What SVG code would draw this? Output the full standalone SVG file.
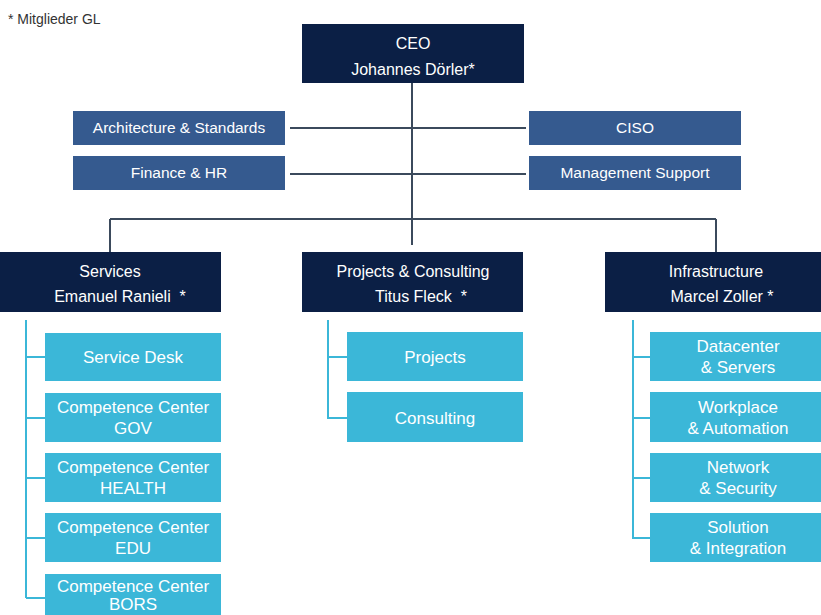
<svg xmlns="http://www.w3.org/2000/svg" width="821" height="615" viewBox="0 0 821 615">
<style>
.t{font-family:"Liberation Sans",Arial,sans-serif;fill:#fff;text-anchor:middle}
.top{fill:#0b1f45}
.staff{fill:#355a8f}
.sub{fill:#3bb7d8}
.c1{stroke:#3b4a5c;stroke-width:2;fill:none}
.c2{stroke:#3bb7d8;stroke-width:2;fill:none}
.f16{font-size:16px}
.f15{font-size:15.5px}
.f17{font-size:17px}
</style>
<rect width="821" height="615" fill="#fff"/>
<text x="8" y="24" font-family="Liberation Sans,Arial,sans-serif" font-size="14" fill="#333">* Mitglieder GL</text>
<g id="connectors">
<path class="c1" d="M412 83V245M290 128H526M290 174H526M110 219H716M110 219V252M716 219V252"/>
<path class="c2" d="M26 320V598M26 357H45M26 418H45M26 478H45M26 538H45M26 598H45"/>
<path class="c2" d="M328 320V418H347M328 357H347"/>
<path class="c2" d="M633 320V538H650M633 357H650M633 418H650M633 478H650"/>
</g>
<g id="ceo"><rect class="top" x="302" y="24" width="222" height="59"/><text class="t f16" x="413" y="49">CEO</text><text class="t f16" x="413" y="75">Johannes Dörler*</text></g>
<g id="arch"><rect class="staff" x="73" y="111" width="212" height="34"/><text class="t f15" x="179" y="133">Architecture &amp; Standards</text></g>
<g id="fin"><rect class="staff" x="73" y="156" width="212" height="34"/><text class="t f15" x="179" y="178">Finance &amp; HR</text></g>
<g id="ciso"><rect class="staff" x="529" y="111" width="212" height="34"/><text class="t f15" x="635" y="133">CISO</text></g>
<g id="mgmt"><rect class="staff" x="529" y="156" width="212" height="34"/><text class="t f15" x="635" y="178">Management Support</text></g>
<g id="services"><rect class="top" x="0" y="252" width="221" height="60"/><text class="t f16" x="110" y="277">Services</text><text class="t f16" x="120" y="302">Emanuel Ranieli&#160; *</text></g>
<g id="projcons"><rect class="top" x="302" y="252" width="221" height="60"/><text class="t f16" x="413" y="277">Projects &amp; Consulting</text><text class="t f16" x="421" y="302">Titus Fleck&#160; *</text></g>
<g id="infra"><rect class="top" x="605" y="252" width="216" height="60"/><text class="t f16" x="716" y="277">Infrastructure</text><text class="t f16" x="722" y="302">Marcel Zoller *</text></g>
<g id="servicedesk"><rect class="sub" x="45" y="333" width="176" height="48"/><text class="t f17" x="133" y="363">Service Desk</text></g>
<g id="ccgov"><rect class="sub" x="45" y="393" width="176" height="49"/><text class="t f17" x="133" y="413">Competence Center</text><text class="t f17" x="133" y="434">GOV</text></g>
<g id="cchealth"><rect class="sub" x="45" y="453" width="176" height="49"/><text class="t f17" x="133" y="473">Competence Center</text><text class="t f17" x="133" y="494">HEALTH</text></g>
<g id="ccedu"><rect class="sub" x="45" y="513" width="176" height="49"/><text class="t f17" x="133" y="533">Competence Center</text><text class="t f17" x="133" y="554">EDU</text></g>
<g id="ccbors"><rect class="sub" x="45" y="574" width="176" height="49"/><text class="t f17" x="133" y="592">Competence Center</text><text class="t f17" x="133" y="610">BORS</text></g>
<g id="projects"><rect class="sub" x="347" y="332" width="176" height="49"/><text class="t f17" x="435" y="363">Projects</text></g>
<g id="consulting"><rect class="sub" x="347" y="392" width="176" height="50"/><text class="t f17" x="435" y="424">Consulting</text></g>
<g id="datacenter"><rect class="sub" x="650" y="332" width="171" height="49"/><text class="t f17" x="738" y="352">Datacenter</text><text class="t f17" x="738" y="373">&amp; Servers</text></g>
<g id="workplace"><rect class="sub" x="650" y="392" width="171" height="50"/><text class="t f17" x="738" y="413">Workplace</text><text class="t f17" x="738" y="434">&amp; Automation</text></g>
<g id="network"><rect class="sub" x="650" y="453" width="171" height="49"/><text class="t f17" x="738" y="473">Network</text><text class="t f17" x="738" y="494">&amp; Security</text></g>
<g id="solution"><rect class="sub" x="650" y="513" width="171" height="49"/><text class="t f17" x="738" y="533">Solution</text><text class="t f17" x="738" y="554">&amp; Integration</text></g>
</svg>
